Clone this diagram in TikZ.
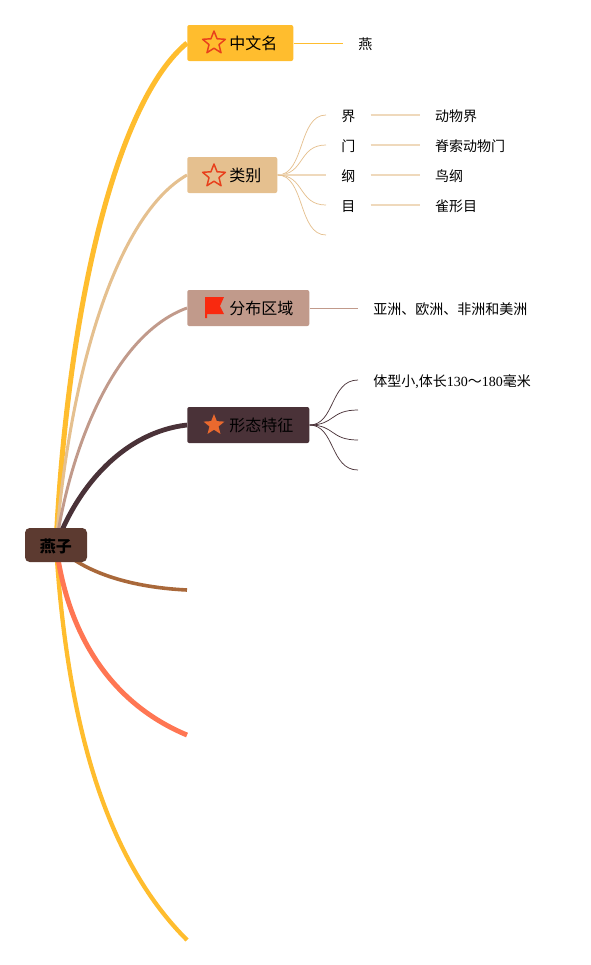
\documentclass[tikz,border=0pt]{standalone}
\usepackage{fontspec}
\setmainfont{Noto Sans CJK SC}
\newfontfamily\latinpart{Liberation Serif}
\usepackage{xcolor}
\usetikzlibrary{positioning,shapes.geometric,backgrounds}
\definecolor{nameyellow}{HTML}{FFBD2E}
\definecolor{classtan}{HTML}{E5C08F}
\definecolor{arearose}{HTML}{C19A8B}
\definecolor{shapedark}{HTML}{4A3238}
\definecolor{rootbrown}{HTML}{5C3A30}
\definecolor{linkbrown}{HTML}{A9683A}
\definecolor{linkcoral}{HTML}{FF7653}
\definecolor{iconred}{HTML}{E8401C}
\definecolor{flagred}{HTML}{F9290F}
\definecolor{iconorange}{HTML}{E9692E}
\newcommand{\iconpad}{\hspace*{19.5pt}}

\begin{document}
\begin{tikzpicture}[
    x=0.75pt,y=-0.75pt,
    root/.style={draw=none,fill=rootbrown,rounded corners=3.5pt,minimum height=25.5pt,
        minimum width=46.5pt,font=\fontsize{12}{14}\selectfont\bfseries,inner sep=0pt,
        text height=12.6pt,text depth=2pt},
    topic/.style={rounded corners=1.5pt,anchor=west,minimum height=27pt,inner ysep=0pt,
        inner xsep=12pt,font=\fontsize{12}{14}\selectfont,text height=11.9pt,text depth=2pt},
    leaf/.style={font=\fontsize{10.5}{12}\selectfont,inner ysep=2pt,inner xsep=11.25pt,anchor=west,
        text height=11.5pt,text depth=2pt},
    starline/.style={star,star points=5,star point ratio=2.3,draw=iconred,line width=1.1pt,
        line join=round,minimum size=18pt,inner sep=0pt},
    starfull/.style={star,star points=5,star point ratio=2.3,fill=iconorange,
        minimum size=16.5pt,inner sep=0pt},
    mainlink/.style={line cap=butt},
    twig/.style={line width=0.55pt},
    valuelink/.style={line width=0.9pt,classtan!60}
]
\useasboundingbox (0,0) rectangle (591,965);
\node[root] (swallow) at (56,545) {燕子};

\node[topic,fill=nameyellow] (cname) at (187,43) {\iconpad 中文名};
\node[topic,fill=classtan] (taxon) at (187,175) {\iconpad 类别};
\node[topic,fill=arearose] (area) at (187,308) {\iconpad 分布区域};
\node[topic,fill=shapedark] (body) at (187,425) {\iconpad 形态特征};

\node[starline] (cnamestar) at (214,43) {};
\node[starline] (taxonstar) at (214,176) {};
\node[starfull] (bodystar) at (214,425) {};
\path[fill=flagred] (205,297) -- (224,297) -- (220,306) -- (224,314) -- (207,314)
    -- (207,318) -- (205,318) -- cycle;

\node[leaf] (yan) at (343,43) {燕};
\node[leaf] (jie) at (326,115) {界};
\node[leaf] (men) at (326,145) {门};
\node[leaf] (gang) at (326,175) {纲};
\node[leaf] (mu) at (326,205) {目};
\node[leaf,right=37pt of jie] (jieval) {动物界};
\node[leaf,right=37pt of men] (menval) {脊索动物门};
\node[leaf,right=37pt of gang] (gangval) {鸟纲};
\node[leaf,right=37pt of mu] (muval) {雀形目};
\node[leaf] (region) at (358,308) {亚洲、欧洲、非洲和美洲};
\node[leaf] (size) at (358,380) {体型小{\latinpart ,}体长{\latinpart 130}～{\latinpart 180}毫米};

\coordinate (taxonend) at (326,235);
\coordinate (bodyb) at (358,410);
\coordinate (bodyc) at (358,440);
\coordinate (bodyd) at (358,470);
\coordinate (brownend) at (187,590);
\coordinate (coralend) at (187,735);
\coordinate (yellowend) at (187,940);

\begin{scope}[on background layer]
\draw[mainlink,nameyellow,line width=3.8pt] (swallow.center) .. controls (68,300) and (118,100) .. (cname.west);
\draw[mainlink,nameyellow,line width=3.2pt] (swallow.center) .. controls (68,740) and (112,865) .. (yellowend);
\draw[mainlink,classtan,line width=2.3pt] (swallow.center) .. controls (70,370) and (117,215) .. (taxon.west);
\draw[mainlink,arearose,line width=2.2pt] (swallow.center) .. controls (70,450) and (113,335) .. (area.west);
\draw[mainlink,shapedark,line width=3.6pt] (swallow.center) .. controls (78,485) and (125,432) .. (body.west);
\draw[mainlink,linkbrown,line width=2.7pt] (swallow.center) .. controls (80,570) and (125,587) .. (brownend);
\draw[mainlink,linkcoral,line width=3.7pt] (swallow.center) .. controls (68,640) and (115,705) .. (coralend);
\end{scope}

\draw[twig,nameyellow] (cname.east) -- (yan.west);
\draw[twig,classtan] (taxon.east) .. controls (305,175) and (298,115) .. (jie.west);
\draw[twig,classtan] (taxon.east) .. controls (305,175) and (298,145) .. (men.west);
\draw[valuelink] (taxon.east) -- (gang.west);
\draw[twig,classtan] (taxon.east) .. controls (305,175) and (298,205) .. (mu.west);
\draw[twig,classtan] (taxon.east) .. controls (305,175) and (298,235) .. (taxonend);
\draw[valuelink] (jie) -- (jieval);
\draw[valuelink] (men) -- (menval);
\draw[valuelink] (gang) -- (gangval);
\draw[valuelink] (mu) -- (muval);
\draw[twig,arearose] (area.east) -- (region.west);
\draw[twig,shapedark] (body.east) .. controls (335,425) and (330,380) .. (size.west);
\draw[twig,shapedark] (body.east) .. controls (335,425) and (330,410) .. (bodyb);
\draw[twig,shapedark] (body.east) .. controls (335,425) and (330,440) .. (bodyc);
\draw[twig,shapedark] (body.east) .. controls (335,425) and (330,470) .. (bodyd);
\end{tikzpicture}
\end{document}
